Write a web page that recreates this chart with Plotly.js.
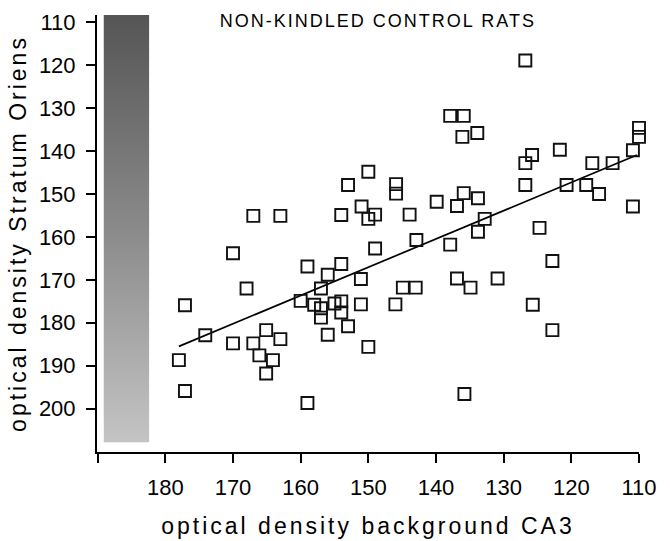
<!DOCTYPE html>
<html>
<head>
<meta charset="utf-8">
<script src="https://cdn.plot.ly/plotly-3.0.1.min.js"></script>
<style>html,body{margin:0;padding:0;background:#fff;}</style>
</head>
<body>
<div id="chart" style="width:670px;height:541px;"></div>
<script>
// Scatter data: background CA3 optical density (x) vs Stratum Oriens optical density (y)
const xValues = [126.8,137.9,135.9,136.1,133.9,125.8,126.8,121.7,116.9,113.9,110.9,110.0,110.0,126.8,120.7,117.8,115.9,110.9,124.7,122.8,
  150.0,153.0,145.9,145.9,139.9,135.9,133.8,136.9,132.8,133.8,137.9,142.9,143.9,154.0,151.0,150.0,149.0,149.0,154.0,159.0,
  156.0,151.1,157.0,136.9,134.9,130.9,144.9,143.0,160.0,158.0,157.0,155.0,154.0,154.0,157.0,151.1,146.0,125.7,122.8,153.0,
  156.0,150.0,135.8,159.0,177.1,168.0,170.0,167.0,163.0,174.1,170.0,167.0,165.1,163.0,166.1,164.1,165.1,178.0,177.1];
const yValues = [118.9,131.8,131.8,136.7,135.8,140.9,142.8,139.7,142.8,142.8,139.8,134.6,136.7,147.9,147.9,147.9,150.0,152.9,157.9,165.6,
  144.8,147.9,147.7,149.9,151.8,149.8,151.0,152.8,155.8,158.8,161.8,160.7,154.8,154.9,152.9,155.8,154.8,162.7,166.3,166.9,
  168.8,169.8,172.0,169.7,171.8,169.7,171.8,171.8,174.9,175.8,176.6,175.5,175.0,177.6,178.8,175.7,175.7,175.8,181.7,180.8,
  182.8,185.6,196.6,198.7,175.9,172.0,163.8,155.1,155.1,182.9,184.8,184.8,181.7,183.8,187.6,188.7,191.8,188.7,195.9];
// Regression line end points
const fitX = [178.0, 110.3];
const fitY = [185.5, 140.9];
// Shaded reference bar (x extent, y extent)
const shadeX = [189.1, 182.4];
const shadeY = [108.3, 207.8];
// Axis ticks
const xTickVals = [190,180,170,160,150,140,130,120,110];
const xTickText = ['', '180','170','160','150','140','130','120','110'];
const yTickVals = [110,120,130,140,150,160,170,180,190,200];
const yTickText = ['110','120','130','140','150','160','170','180','190','200'];
const xRange = [190.1, 110];
const yRange = [210.1, 108.3];

const font = 'Liberation Sans, Arial, Helvetica, sans-serif';

const traces = [
  {
    type: 'scatter', mode: 'lines',
    x: [shadeX[0], shadeX[1], shadeX[1], shadeX[0], shadeX[0]],
    y: [shadeY[0], shadeY[0], shadeY[1], shadeY[1], shadeY[0]],
    fill: 'toself',
    fillgradient: {type: 'vertical', start: shadeY[0], stop: shadeY[1],
      colorscale: [[0, '#555555'], [0.5, '#8a8a8a'], [1, '#c4c4c4']]},
    line: {width: 0, color: 'rgba(0,0,0,0)'},
    hoverinfo: 'skip', showlegend: false
  },
  {
    type: 'scatter', mode: 'lines',
    x: fitX, y: fitY,
    line: {color: '#000', width: 1.7},
    showlegend: false
  },
  {
    type: 'scatter', mode: 'markers',
    x: xValues, y: yValues,
    cliponaxis: false,
    marker: {symbol: 'square-open', size: 12, color: '#111', line: {width: 1.9, color: '#111'}},
    showlegend: false
  }
];

const layout = {
  width: 670, height: 541,
  margin: {l: 97, r: 31, t: 15, b: 89},
  paper_bgcolor: '#fff', plot_bgcolor: '#fff',
  font: {family: font, color: '#000'},
  title: {
    text: '<span style="letter-spacing:2px">NON-KINDLED CONTROL RATS</span>',
    font: {size: 18, family: font, color: '#000'},
    xref: 'container', yref: 'container', x: 0.564, y: 0.962,
    xanchor: 'center', yanchor: 'middle'
  },
  xaxis: {
    range: xRange,
    tickmode: 'array', tickvals: xTickVals, ticktext: xTickText,
    ticks: 'outside', ticklen: 9, tickwidth: 1.8, tickcolor: '#000',
    showline: true, linewidth: 2, linecolor: '#000',
    showgrid: false, zeroline: false,
    tickfont: {size: 22, family: font, color: '#000'},
    ticklabelstandoff: 6,
    title: {text: '<span style="letter-spacing:3px">optical density background CA3</span>',
      font: {size: 23, family: font, color: '#000'}, standoff: 18}
  },
  yaxis: {
    range: yRange,
    tickmode: 'array', tickvals: yTickVals, ticktext: yTickText,
    ticks: 'outside', ticklen: 9, tickwidth: 1.8, tickcolor: '#000',
    showline: true, linewidth: 2, linecolor: '#000',
    showgrid: false, zeroline: false,
    tickfont: {size: 22, family: font, color: '#000'},
    ticklabelstandoff: 6,
    title: {text: '<span style="letter-spacing:3px">optical density Stratum Oriens</span>',
      font: {size: 23, family: font, color: '#000'}, standoff: 6}
  }
};

Plotly.newPlot('chart', traces, layout, {displayModeBar: false, staticPlot: true});
</script>
</body>
</html>
